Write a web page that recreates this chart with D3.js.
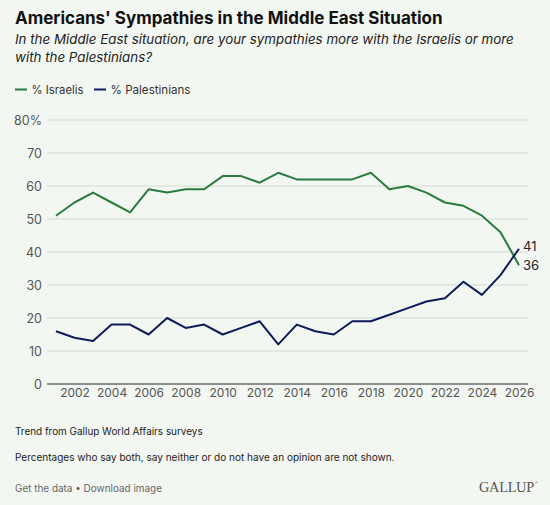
<!DOCTYPE html>
<html>
<head>
<meta charset="utf-8">
<script src="https://cdn.jsdelivr.net/npm/d3@7/dist/d3.min.js"></script>
<style>
  html, body { margin: 0; padding: 0; background: #f3f7f2; }
  svg { display: block; }
</style>
</head>
<body>
<svg id="chart" width="550" height="505" font-family="Inter, 'Noto Sans', sans-serif"></svg>
<script>
const years = [2001,2002,2003,2004,2005,2006,2007,2008,2009,2010,2011,2012,2013,2014,2015,2016,2017,2018,2019,2020,2021,2022,2023,2024,2025,2026];
const israelis = [51,55,58,55,52,59,58,59,59,63,63,61,64,62,62,62,62,64,59,60,58,55,54,51,46,36];
const palestinians = [16,14,13,18,18,15,20,17,18,15,17,19,12,18,16,15,19,19,21,23,25,26,31,27,33,41];
const yTicks = [0,10,20,30,40,50,60,70,80];
const xTicks = [2002,2004,2006,2008,2010,2012,2014,2016,2018,2020,2022,2024,2026];
const seriesNames = ["% Israelis", "% Palestinians"];
const seriesColors = ["#2a7b3f", "#0e1b5b"];

const svg = d3.select("#chart");
svg.append("rect").attr("width", 550).attr("height", 505).attr("fill", "#f3f7f2");

// scale a text's font size so its rendered width matches the target width
function fit(sel, target) {
  const node = sel.node();
  const fs = parseFloat(sel.attr("font-size"));
  const w = node.getComputedTextLength();
  if (w > 0) sel.attr("font-size", (fs * target / w).toFixed(2));
  return sel;
}

// Title & subtitle
fit(svg.append("text").attr("x", 15).attr("y", 24)
  .attr("font-size", 17).attr("font-weight", 700).attr("fill", "#111")
  .text("Americans' Sympathies in the Middle East Situation"), 428);
fit(svg.append("text").attr("x", 15).attr("y", 44)
  .attr("font-size", 15).attr("font-style", "italic").attr("fill", "#222")
  .text("In the Middle East situation, are your sympathies more with the Israelis or more"), 499);
fit(svg.append("text").attr("x", 15).attr("y", 62)
  .attr("font-size", 15).attr("font-style", "italic").attr("fill", "#222")
  .text("with the Palestinians?"), 137);

// Legend
const legend = svg.append("g");
const legendX = [15, 94];
const legendW = [52, 80];
seriesNames.forEach((n, i) => {
  legend.append("line").attr("x1", legendX[i]).attr("x2", legendX[i] + 12)
    .attr("y1", 89.5).attr("y2", 89.5).attr("stroke", seriesColors[i]).attr("stroke-width", 2);
  fit(legend.append("text").attr("x", legendX[i] + 16.5).attr("y", 94)
    .attr("font-size", 13).attr("fill", "#333").text(n), legendW[i]);
});

// Scales
const x = d3.scaleLinear().domain([2001, 2026]).range([56, 519]);
const y = d3.scaleLinear().domain([0, 80]).range([384, 120]);
const gridX1 = 47, gridX2 = 528;

// Grid
const grid = svg.append("g");
yTicks.forEach(t => {
  grid.append("line").attr("x1", gridX1).attr("x2", gridX2)
    .attr("y1", y(t)).attr("y2", y(t))
    .attr("stroke", t === 0 ? "#6b6b6b" : "#dfe3de")
    .attr("stroke-width", 1.5);
});

// Y axis labels
const yAxis = d3.axisLeft(y).tickValues(yTicks).tickSize(0).tickPadding(0)
  .tickFormat(d => d === 80 ? "80%" : d);
const gy = svg.append("g").attr("transform", `translate(42,0)`).call(yAxis);
gy.select(".domain").remove();
gy.attr("font-family", null).attr("font-size", null);
gy.selectAll("text").attr("font-size", 12.5).attr("fill", "#555");

// X axis labels
const xAxis = d3.axisBottom(x).tickValues(xTicks).tickSize(0).tickPadding(0)
  .tickFormat(d3.format("d"));
const gx = svg.append("g").attr("transform", `translate(0,388)`).call(xAxis);
gx.select(".domain").remove();
gx.attr("font-family", null).attr("font-size", null);
gx.selectAll("text").attr("font-size", 12).attr("fill", "#555");

// Lines
const line = d3.line().x((d, i) => x(years[i])).y(d => y(d));
[israelis, palestinians].forEach((s, i) => {
  svg.append("path").datum(s).attr("d", line)
    .attr("fill", "none").attr("stroke", seriesColors[i]).attr("stroke-width", 2)
    .attr("stroke-linejoin", "round");
});

// End labels
const lastIdx = years.length - 1;
svg.append("text").attr("x", x(years[lastIdx]) + 4).attr("y", y(palestinians[lastIdx]) + 2.5)
  .attr("font-size", 13).attr("fill", "#222").text(palestinians[lastIdx]);
svg.append("text").attr("x", x(years[lastIdx]) + 4).attr("y", y(israelis[lastIdx]) + 5)
  .attr("font-size", 13).attr("fill", "#222").text(israelis[lastIdx]);

// Footer
fit(svg.append("text").attr("x", 15).attr("y", 435).attr("font-size", 11).attr("fill", "#222")
  .text("Trend from Gallup World Affairs surveys"), 188);
fit(svg.append("text").attr("x", 15).attr("y", 461).attr("font-size", 11).attr("fill", "#222")
  .text("Percentages who say both, say neither or do not have an opinion are not shown."), 380);
fit(svg.append("text").attr("x", 15).attr("y", 492).attr("font-size", 11).attr("fill", "#666")
  .text("Get the data \u2022 Download image"), 147);
const logo = svg.append("text").attr("x", 479).attr("y", 492)
  .attr("font-size", 15).attr("fill", "#555")
  .attr("font-family", "'Liberation Serif', 'DejaVu Serif', serif")
  .attr("letter-spacing", -0.3)
  .text("GALLUP");
fit(logo, 55);
svg.append("text").attr("x", 535).attr("y", 484).attr("font-size", 4).attr("fill", "#555")
  .attr("font-family", "'Liberation Serif', serif").text("\u00AE");
</script>
</body>
</html>
